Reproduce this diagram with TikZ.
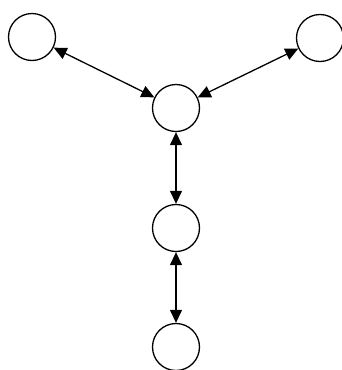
\documentclass[tikz,border=0pt]{standalone}
\usepackage{tikz}
\usetikzlibrary{arrows.meta}

\begin{document}
\begin{tikzpicture}
            [x=1pt, y=-1pt,
             state/.style={circle, draw, line width=1.3pt, minimum size=47pt, inner sep=0pt},
             link/.style={{Triangle[length=13pt, width=12pt]}-{Triangle[length=13pt, width=12pt]}, line width=1.3pt}]
            % Fix the canvas
            \useasboundingbox (0,0) rectangle (342,370);

            % Place the states
            \node[state] (TL) at (32, 37) {};    % Top left state
            \node[state] (TR) at (320, 38) {};   % Top right state
            \node[state] (C) at (176, 108) {};   % Centre state
            \node[state] (M) at (176, 228) {};   % Middle state
            \node[state] (B) at (176, 347) {};   % Bottom state

            % Draw links
            \draw[link] (TL) -- (C);  % Link between top left and centre
            \draw[link] (TR) -- (C);  % Link between top right and centre
            \draw[link] (C) -- (M);   % Link between centre and middle
            \draw[link] (M) -- (B);   % Link between middle and bottom
        \end{tikzpicture}
\end{document}
